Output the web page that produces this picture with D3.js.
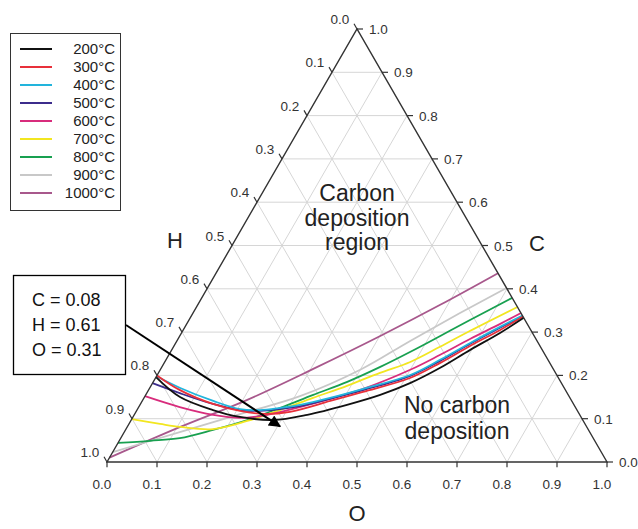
<!DOCTYPE html>
<html>
<head>
<meta charset="utf-8">
<script src="https://cdn.jsdelivr.net/npm/d3@7"></script>
<style>
  body { margin: 0; background: #fff; }
  text { font-family: "Liberation Sans", Arial, sans-serif; }
</style>
</head>
<body>
<svg id="chart" width="638" height="529"></svg>
<script>
// temperatures and their colours (legend order)
const temps = ["200°C", "300°C", "400°C", "500°C", "600°C", "700°C", "800°C", "900°C", "1000°C"];
const colors = ["#111111", "#e8303a", "#22b4dc", "#3c2c8c", "#d82c7c", "#f2e620", "#18a050", "#c8c8c8", "#a8588c"];

// boundary curves as [O, C] pairs (H = 1 - O - C)
const t200 = [[0, 0.196], [0.071, 0.150], [0.152, 0.120], [0.214, 0.104], [0.284, 0.097], [0.346, 0.109], [0.414, 0.132], [0.469, 0.155], [0.515, 0.182], [0.557, 0.217], [0.597, 0.259], [0.637, 0.298], [0.667, 0.333]];
const t300 = [[0, 0.200], [0.063, 0.166], [0.145, 0.134], [0.207, 0.118], [0.261, 0.111], [0.308, 0.116], [0.376, 0.141], [0.431, 0.162], [0.509, 0.194], [0.552, 0.229], [0.592, 0.268], [0.634, 0.305], [0.664, 0.336]];
const t400 = [[0, 0.198], [0.061, 0.171], [0.142, 0.141], [0.205, 0.122], [0.246, 0.120], [0.284, 0.125], [0.320, 0.132], [0.372, 0.148], [0.428, 0.169], [0.506, 0.201], [0.548, 0.236], [0.589, 0.275], [0.630, 0.312], [0.662, 0.338]];
const t500 = [[0, 0.182], [0.066, 0.159], [0.145, 0.134], [0.206, 0.120], [0.247, 0.118], [0.285, 0.122], [0.321, 0.129], [0.373, 0.146], [0.429, 0.166], [0.507, 0.199], [0.549, 0.233], [0.590, 0.273], [0.631, 0.310], [0.663, 0.337]];
const t600 = [[0, 0.152], [0.082, 0.127], [0.158, 0.109], [0.215, 0.102], [0.266, 0.109], [0.322, 0.127], [0.373, 0.146], [0.428, 0.169], [0.500, 0.213], [0.542, 0.247], [0.584, 0.284], [0.627, 0.319], [0.656, 0.344]];
const t700 = [[0, 0.099], [0.062, 0.088], [0.106, 0.081], [0.174, 0.076], [0.233, 0.095], [0.286, 0.120], [0.338, 0.148], [0.392, 0.176], [0.443, 0.206], [0.491, 0.231], [0.533, 0.266], [0.575, 0.303], [0.642, 0.358]];
const t800 = [[0, 0.044], [0.062, 0.049], [0.118, 0.055], [0.175, 0.074], [0.232, 0.097], [0.284, 0.125], [0.335, 0.155], [0.388, 0.185], [0.436, 0.219], [0.479, 0.254], [0.521, 0.291], [0.562, 0.328], [0.621, 0.379]];
const t900 = [[0, 0.023], [0.111, 0.069], [0.222, 0.115], [0.310, 0.152], [0.400, 0.213], [0.466, 0.279], [0.534, 0.344], [0.598, 0.402]];
const t1000 = [[0, 0.010], [0.106, 0.081], [0.208, 0.143], [0.305, 0.215], [0.401, 0.291], [0.485, 0.363], [0.564, 0.436]];
const curves = [t200, t300, t400, t500, t600, t700, t800, t900, t1000];

const ticks = [0, 0.1, 0.2, 0.3, 0.4, 0.5, 0.6, 0.7, 0.8, 0.9, 1.0];
const gridVals = [0.1, 0.2, 0.3, 0.4, 0.5, 0.6, 0.7, 0.8, 0.9];

// annotated point
const noteC = 0.08, noteH = 0.61, noteO = 0.31;
const noteLines = ["C = " + noteC.toFixed(2), "H = " + noteH.toFixed(2), "O = " + noteO.toFixed(2)];

const svg = d3.select("#chart");

// ternary projection: x from O + C/2, y from C
const xs = d3.scaleLinear().domain([0, 1]).range([107, 607]);
const ys = d3.scaleLinear().domain([0, 1]).range([462, 29]);
const proj = (o, c) => [xs(o + c / 2), ys(c)];

// grid
const grid = svg.append("g").attr("stroke", "#d6d6d6").attr("stroke-width", 1);
gridVals.forEach((v) => {
  const segs = [
    [proj(0, v), proj(1 - v, v)],     // constant C
    [proj(v, 0), proj(v, 1 - v)],     // constant O
    [proj(1 - v, 0), proj(0, 1 - v)], // constant H
  ];
  segs.forEach((s) => {
    grid.append("line")
      .attr("x1", s[0][0]).attr("y1", s[0][1])
      .attr("x2", s[1][0]).attr("y2", s[1][1]);
  });
});

// curves
const line = d3.line()
  .curve(d3.curveCatmullRom.alpha(0.5))
  .x((d) => proj(d[0], d[1])[0])
  .y((d) => proj(d[0], d[1])[1]);

const order = [8, 7, 6, 5, 4, 3, 2, 1, 0];
order.forEach((i) => {
  svg.append("path")
    .attr("d", line(curves[i]))
    .attr("fill", "none")
    .attr("stroke", colors[i])
    .attr("stroke-width", 1.8);
});

// triangle outline
const tri = [proj(0, 0), proj(1, 0), proj(0, 1)];
svg.append("path")
  .attr("d", "M" + tri.map((p) => p.join(",")).join("L") + "Z")
  .attr("fill", "none")
  .attr("stroke", "#333")
  .attr("stroke-width", 1.4);

// ticks and tick labels
const axis = svg.append("g").attr("stroke", "#333").attr("stroke-width", 1.2);
const lab = svg.append("g").attr("font-size", 13.5).attr("fill", "#333");
ticks.forEach((v) => {
  // bottom, O
  let p = proj(v, 0), q = proj(v + 0.006, -0.012);
  axis.append("line").attr("x1", p[0]).attr("y1", p[1]).attr("x2", q[0]).attr("y2", q[1]);
  lab.append("text").attr("x", p[0] - 5).attr("y", p[1] + 27)
    .attr("text-anchor", "middle").text(v.toFixed(1));
  // right, C
  p = proj(1 - v, v); q = proj(1 - v + 0.012, v);
  axis.append("line").attr("x1", p[0]).attr("y1", p[1]).attr("x2", q[0]).attr("y2", q[1]);
  lab.append("text").attr("x", p[0] + 12).attr("y", p[1] + 5).text(v.toFixed(1));
  // left, H
  p = proj(0, 1 - v); q = proj(-0.012, 1 - v + 0.012);
  axis.append("line").attr("x1", p[0]).attr("y1", p[1]).attr("x2", q[0]).attr("y2", q[1]);
  lab.append("text").attr("x", p[0] - 17).attr("y", p[1] - 5)
    .attr("text-anchor", "middle").text(v.toFixed(1));
});

// axis titles
const titles = [["H", 175, 248], ["C", 537, 251], ["O", 357, 521]];
titles.forEach((t) => {
  svg.append("text").attr("x", t[1]).attr("y", t[2])
    .attr("text-anchor", "middle").attr("font-size", 22).attr("fill", "#222").text(t[0]);
});

// region labels
const region1 = ["Carbon", "deposition", "region"];
region1.forEach((t, i) => {
  svg.append("text").attr("x", 357).attr("y", 201 + i * 24.5)
    .attr("text-anchor", "middle").attr("font-size", 23).attr("fill", "#222").text(t);
});
const region2 = ["No carbon", "deposition"];
region2.forEach((t, i) => {
  svg.append("text").attr("x", 457).attr("y", 413 + i * 25.5)
    .attr("text-anchor", "middle").attr("font-size", 23).attr("fill", "#222").text(t);
});

// legend
svg.append("rect").attr("x", 10.5).attr("y", 33.5).attr("width", 110).attr("height", 177)
  .attr("fill", "#fff").attr("stroke", "#333").attr("stroke-width", 1);
temps.forEach((t, i) => {
  const y = 49 + i * 18;
  svg.append("line").attr("x1", 20).attr("x2", 52).attr("y1", y).attr("y2", y)
    .attr("stroke", colors[i]).attr("stroke-width", 2);
  svg.append("text").attr("x", 115).attr("y", y + 5).attr("text-anchor", "end")
    .attr("font-size", 15).attr("fill", "#222").text(t);
});

// annotation box and arrow
svg.append("defs").append("marker")
  .attr("id", "arrow").attr("viewBox", "0 0 10 10").attr("refX", 9).attr("refY", 5)
  .attr("markerWidth", 7.5).attr("markerHeight", 6).attr("markerUnits", "strokeWidth")
  .attr("orient", "auto")
  .append("path").attr("d", "M0,0L10,5L0,10Z").attr("fill", "#000");

const tip = proj(noteO, noteC);
svg.append("line").attr("x1", 126).attr("y1", 325).attr("x2", tip[0] - 2).attr("y2", tip[1] - 1)
  .attr("stroke", "#000").attr("stroke-width", 2).attr("marker-end", "url(#arrow)");

svg.append("rect").attr("x", 13.5).attr("y", 275.5).attr("width", 112).attr("height", 99)
  .attr("fill", "#fff").attr("stroke", "#000").attr("stroke-width", 1.3);
noteLines.forEach((t, i) => {
  svg.append("text").attr("x", 32).attr("y", 306 + i * 25)
    .attr("font-size", 18).attr("fill", "#111").text(t);
});
</script>
</body>
</html>
